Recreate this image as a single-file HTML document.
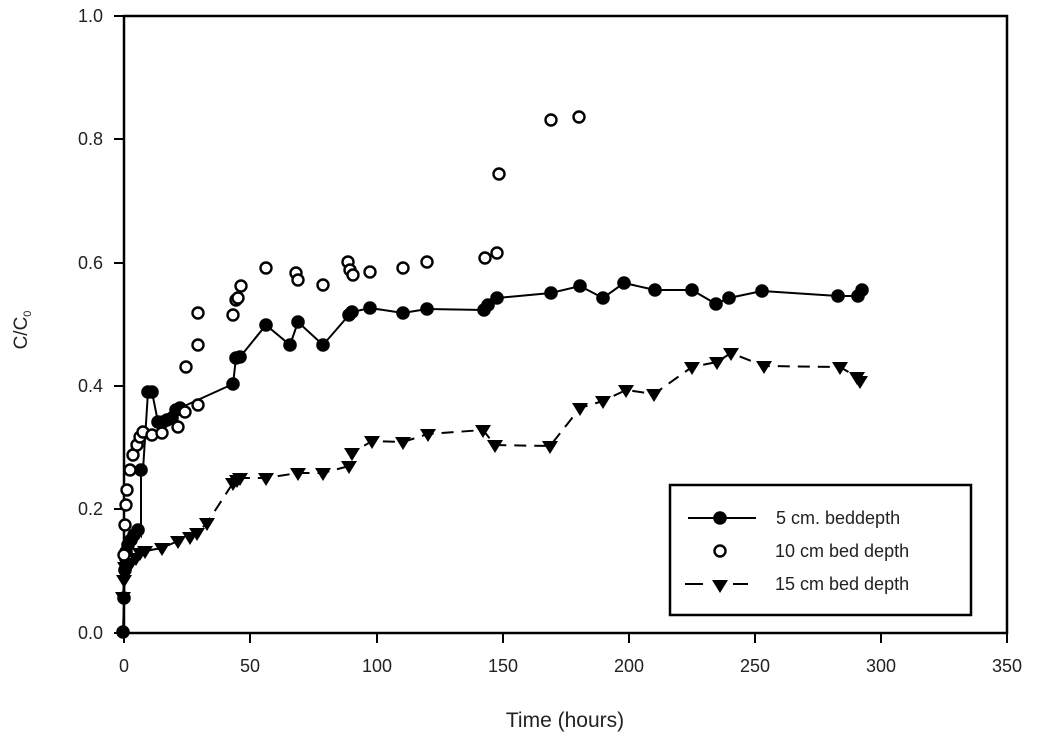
<!DOCTYPE html>
<html><head><meta charset="utf-8"><style>
html,body{margin:0;padding:0;background:#fff;}
svg{display:block;}
text{font-family:"Liberation Sans",sans-serif;fill:#222;}
</style></head><body>
<svg width="1037" height="743" viewBox="0 0 1037 743" xmlns="http://www.w3.org/2000/svg">
<defs>
<symbol id="c" viewBox="-7 -7 14 14"><circle r="6.8" fill="#000"/></symbol>
<symbol id="o" viewBox="-7 -7 14 14"><circle r="5.5" fill="#fff" stroke="#000" stroke-width="2.4"/></symbol>
<symbol id="t" viewBox="-8 -8 16 16"><path d="M-8,-5 L8,-5 L0,8 Z" fill="#000"/></symbol>
</defs>
<rect x="124" y="16" width="883" height="617" fill="none" stroke="#000" stroke-width="2.5"/>
<g stroke="#000" stroke-width="2">
<line x1="114" y1="16" x2="124" y2="16"/><line x1="114" y1="139" x2="124" y2="139"/>
<line x1="114" y1="263" x2="124" y2="263"/><line x1="114" y1="386" x2="124" y2="386"/>
<line x1="114" y1="509" x2="124" y2="509"/><line x1="114" y1="633" x2="124" y2="633"/>
<line x1="124" y1="633" x2="124" y2="643"/><line x1="250" y1="633" x2="250" y2="643"/>
<line x1="377" y1="633" x2="377" y2="643"/><line x1="503" y1="633" x2="503" y2="643"/>
<line x1="629" y1="633" x2="629" y2="643"/><line x1="755" y1="633" x2="755" y2="643"/>
<line x1="881" y1="633" x2="881" y2="643"/><line x1="1007" y1="633" x2="1007" y2="643"/>
</g>
<g font-size="18" text-anchor="end">
<text x="103" y="22">1.0</text><text x="103" y="145">0.8</text><text x="103" y="269">0.6</text>
<text x="103" y="392">0.4</text><text x="103" y="515">0.2</text><text x="103" y="639">0.0</text>
</g>
<g font-size="18" text-anchor="middle">
<text x="124" y="672">0</text><text x="250" y="672">50</text><text x="377" y="672">100</text>
<text x="503" y="672">150</text><text x="629" y="672">200</text><text x="755" y="672">250</text>
<text x="881" y="672">300</text><text x="1007" y="672">350</text>
</g>
<text x="565" y="727" font-size="21" text-anchor="middle">Time (hours)</text>
<text transform="translate(27,330) rotate(-90)" font-size="19" text-anchor="middle">C/C<tspan font-size="11" dy="4">0</tspan></text>

<polyline fill="none" stroke="#000" stroke-width="2" stroke-dasharray="12,8" points="123,597 124,580 125,567 127,565 131,563 136,558 140,553 145,551 162,548 178,541 190,537 197,533 207,523 233,483 237,480 240,478 266,478 298,473 323,473 349,466 352,453 372,441 403,442 428,434 483,430 495,445 550,446 580,408 603,401 626,390 654,394 692,367 717,362 731,353 764,366 840,367 857,377 860,380"/>
<g>
<use href="#t" x="115" y="589" width="16" height="16"/><use href="#t" x="116" y="572" width="16" height="16"/>
<use href="#t" x="117" y="559" width="16" height="16"/><use href="#t" x="119" y="557" width="16" height="16"/>
<use href="#t" x="123" y="555" width="16" height="16"/><use href="#t" x="128" y="550" width="16" height="16"/>
<use href="#t" x="132" y="545" width="16" height="16"/><use href="#t" x="137" y="543" width="16" height="16"/>
<use href="#t" x="154" y="540" width="16" height="16"/><use href="#t" x="170" y="533" width="16" height="16"/>
<use href="#t" x="182" y="529" width="16" height="16"/><use href="#t" x="189" y="525" width="16" height="16"/>
<use href="#t" x="199" y="515" width="16" height="16"/><use href="#t" x="225" y="475" width="16" height="16"/>
<use href="#t" x="229" y="472" width="16" height="16"/><use href="#t" x="232" y="470" width="16" height="16"/>
<use href="#t" x="258" y="470" width="16" height="16"/><use href="#t" x="290" y="465" width="16" height="16"/>
<use href="#t" x="315" y="465" width="16" height="16"/><use href="#t" x="341" y="458" width="16" height="16"/>
<use href="#t" x="344" y="445" width="16" height="16"/><use href="#t" x="364" y="433" width="16" height="16"/>
<use href="#t" x="395" y="434" width="16" height="16"/><use href="#t" x="420" y="426" width="16" height="16"/>
<use href="#t" x="475" y="422" width="16" height="16"/><use href="#t" x="487" y="437" width="16" height="16"/>
<use href="#t" x="542" y="438" width="16" height="16"/><use href="#t" x="572" y="400" width="16" height="16"/>
<use href="#t" x="595" y="393" width="16" height="16"/><use href="#t" x="618" y="382" width="16" height="16"/>
<use href="#t" x="646" y="386" width="16" height="16"/><use href="#t" x="684" y="359" width="16" height="16"/>
<use href="#t" x="709" y="354" width="16" height="16"/><use href="#t" x="723" y="345" width="16" height="16"/>
<use href="#t" x="756" y="358" width="16" height="16"/><use href="#t" x="832" y="359" width="16" height="16"/>
<use href="#t" x="849" y="369" width="16" height="16"/><use href="#t" x="852" y="373" width="16" height="16"/>
</g>

<polyline fill="none" stroke="#000" stroke-width="2" points="123,632 124,598 125,570 126,552 128,545 131,540 134,535 138,530 141,535 141,470 143,470 148,392 152,392 158,422 163,422 167,420 172,418 176,410 180,408 233,384 236,358 240,357 266,325 290,345 298,322 323,345 349,315 352,312 370,308 403,313 427,309 484,310 488,305 497,298 551,293 580,286 603,298 624,283 655,290 692,290 716,304 729,298 762,291 838,296 858,296 862,290"/>
<g>
<use href="#c" x="116" y="625" width="14" height="14"/><use href="#c" x="117" y="591" width="14" height="14"/>
<use href="#c" x="118" y="563" width="14" height="14"/><use href="#c" x="119" y="545" width="14" height="14"/>
<use href="#c" x="121" y="538" width="14" height="14"/><use href="#c" x="124" y="533" width="14" height="14"/>
<use href="#c" x="127" y="528" width="14" height="14"/><use href="#c" x="131" y="523" width="14" height="14"/>
<use href="#c" x="134" y="463" width="14" height="14"/><use href="#c" x="141" y="385" width="14" height="14"/>
<use href="#c" x="145" y="385" width="14" height="14"/><use href="#c" x="151" y="415" width="14" height="14"/>
<use href="#c" x="156" y="415" width="14" height="14"/><use href="#c" x="160" y="413" width="14" height="14"/>
<use href="#c" x="165" y="411" width="14" height="14"/><use href="#c" x="169" y="403" width="14" height="14"/>
<use href="#c" x="173" y="401" width="14" height="14"/><use href="#c" x="226" y="377" width="14" height="14"/>
<use href="#c" x="229" y="351" width="14" height="14"/><use href="#c" x="233" y="350" width="14" height="14"/>
<use href="#c" x="259" y="318" width="14" height="14"/><use href="#c" x="283" y="338" width="14" height="14"/>
<use href="#c" x="291" y="315" width="14" height="14"/><use href="#c" x="316" y="338" width="14" height="14"/>
<use href="#c" x="342" y="308" width="14" height="14"/><use href="#c" x="345" y="305" width="14" height="14"/>
<use href="#c" x="363" y="301" width="14" height="14"/><use href="#c" x="396" y="306" width="14" height="14"/>
<use href="#c" x="420" y="302" width="14" height="14"/><use href="#c" x="477" y="303" width="14" height="14"/>
<use href="#c" x="481" y="298" width="14" height="14"/><use href="#c" x="490" y="291" width="14" height="14"/>
<use href="#c" x="544" y="286" width="14" height="14"/><use href="#c" x="573" y="279" width="14" height="14"/>
<use href="#c" x="596" y="291" width="14" height="14"/><use href="#c" x="617" y="276" width="14" height="14"/>
<use href="#c" x="648" y="283" width="14" height="14"/><use href="#c" x="685" y="283" width="14" height="14"/>
<use href="#c" x="709" y="297" width="14" height="14"/><use href="#c" x="722" y="291" width="14" height="14"/>
<use href="#c" x="755" y="284" width="14" height="14"/><use href="#c" x="831" y="289" width="14" height="14"/>
<use href="#c" x="851" y="289" width="14" height="14"/><use href="#c" x="855" y="283" width="14" height="14"/>
</g>

<g>
<use href="#o" x="117" y="548" width="14" height="14"/><use href="#o" x="118" y="518" width="14" height="14"/>
<use href="#o" x="119" y="498" width="14" height="14"/><use href="#o" x="120" y="483" width="14" height="14"/>
<use href="#o" x="123" y="463" width="14" height="14"/><use href="#o" x="126" y="448" width="14" height="14"/>
<use href="#o" x="130" y="438" width="14" height="14"/><use href="#o" x="133" y="430" width="14" height="14"/>
<use href="#o" x="136" y="425" width="14" height="14"/><use href="#o" x="145" y="428" width="14" height="14"/>
<use href="#o" x="155" y="426" width="14" height="14"/><use href="#o" x="171" y="420" width="14" height="14"/>
<use href="#o" x="178" y="405" width="14" height="14"/><use href="#o" x="191" y="398" width="14" height="14"/>
<use href="#o" x="179" y="360" width="14" height="14"/><use href="#o" x="191" y="338" width="14" height="14"/>
<use href="#o" x="191" y="306" width="14" height="14"/><use href="#o" x="226" y="308" width="14" height="14"/>
<use href="#o" x="229" y="293" width="14" height="14"/><use href="#o" x="231" y="291" width="14" height="14"/>
<use href="#o" x="234" y="279" width="14" height="14"/><use href="#o" x="259" y="261" width="14" height="14"/>
<use href="#o" x="289" y="266" width="14" height="14"/><use href="#o" x="291" y="273" width="14" height="14"/>
<use href="#o" x="316" y="278" width="14" height="14"/><use href="#o" x="341" y="255" width="14" height="14"/>
<use href="#o" x="343" y="263" width="14" height="14"/><use href="#o" x="346" y="268" width="14" height="14"/>
<use href="#o" x="363" y="265" width="14" height="14"/><use href="#o" x="396" y="261" width="14" height="14"/>
<use href="#o" x="420" y="255" width="14" height="14"/><use href="#o" x="478" y="251" width="14" height="14"/>
<use href="#o" x="490" y="246" width="14" height="14"/><use href="#o" x="492" y="167" width="14" height="14"/>
<use href="#o" x="544" y="113" width="14" height="14"/><use href="#o" x="572" y="110" width="14" height="14"/>
</g>

<rect x="670" y="485" width="301" height="130" fill="#fff" stroke="#000" stroke-width="2.5"/>
<line x1="688" y1="518" x2="756" y2="518" stroke="#000" stroke-width="2"/>
<use href="#c" x="713" y="511" width="14" height="14"/>
<use href="#o" x="713" y="544" width="14" height="14"/>
<line x1="685" y1="584" x2="703" y2="584" stroke="#000" stroke-width="2"/>
<line x1="733" y1="584" x2="748" y2="584" stroke="#000" stroke-width="2"/>
<use href="#t" x="712" y="577" width="16" height="16"/>
<g font-size="18">
<text x="776" y="524">5 cm. beddepth</text>
<text x="775" y="557">10 cm bed depth</text>
<text x="775" y="590">15 cm bed depth</text>
</g>
</svg>
</body></html>
